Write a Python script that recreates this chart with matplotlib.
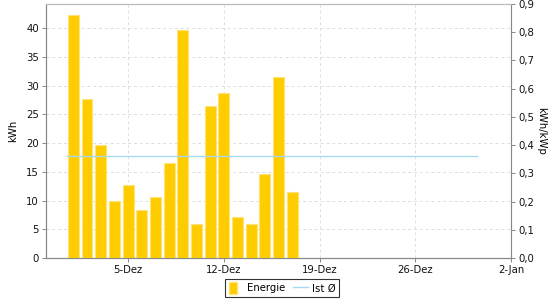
import matplotlib
matplotlib.use("Agg")
import matplotlib.pyplot as plt
import matplotlib.dates as mdates
from matplotlib.patches import Patch
from matplotlib.lines import Line2D
import datetime as dt

# ---- data ----
dates = ["2023-12-01", "2023-12-02", "2023-12-03", "2023-12-04", "2023-12-05",
         "2023-12-06", "2023-12-07", "2023-12-08", "2023-12-09", "2023-12-10",
         "2023-12-11", "2023-12-12", "2023-12-13", "2023-12-14", "2023-12-15",
         "2023-12-16", "2023-12-17"]
energy_kwh = [42.2, 27.6, 19.7, 10.0, 12.7, 8.3, 10.7, 16.5, 39.6, 5.9,
              26.5, 28.7, 7.1, 5.9, 14.7, 31.5, 11.5]
avg_start = "2023-11-30 12:00"
avg_end = "2023-12-30 12:00"
avg_kwh_kwp = 0.362
tick_dates = ["2023-12-05", "2023-12-12", "2023-12-19", "2023-12-26", "2024-01-02"]
tick_labels = ["5-Dez", "12-Dez", "19-Dez", "26-Dez", "2-Jan"]
x_start = "2023-11-29"
x_end = "2024-01-02"

plt.rcParams['font.family'] = ['DejaVu Sans']
fs = 7.3

fig = plt.figure(figsize=(5.6, 3.0), dpi=100)
ax = fig.add_axes([46/560, 1-258/300, (511-46)/560, (258-4)/300])
ax2 = ax.twinx()

d = [dt.datetime.fromisoformat(s) for s in dates]
xd = mdates.date2num(d)
ax.bar(xd, energy_kwh, width=0.8, color="#FFCC00", edgecolor="#FFE27A",
       linewidth=0.8, zorder=3)

ax2.plot(mdates.date2num([dt.datetime.fromisoformat(avg_start), dt.datetime.fromisoformat(avg_end)]),
         [avg_kwh_kwp, avg_kwh_kwp], color="#A6D8F2", linewidth=1.0, zorder=4)

ax.set_xlim(mdates.date2num(dt.datetime.fromisoformat(x_start)),
            mdates.date2num(dt.datetime.fromisoformat(x_end)))
ax.set_ylim(0, 44.2)
ax2.set_ylim(0, 0.9)

ax.set_yticks(range(0, 45, 5))
ax.set_yticklabels([str(v) for v in range(0, 45, 5)], fontsize=fs)
r_ticks = [i / 10 for i in range(10)]
ax2.set_yticks(r_ticks)
ax2.set_yticklabels([f"{v:.1f}".replace(".", ",") for v in r_ticks], fontsize=fs)

ax.set_xticks(mdates.date2num([dt.datetime.fromisoformat(s) for s in tick_dates]))
ax.set_xticklabels(tick_labels, fontsize=fs)

ax.grid(True, color="#DDDDDD", linestyle=(0, (3, 3)), linewidth=0.7, zorder=0)
ax.set_axisbelow(True)

for a in (ax, ax2):
    for s in a.spines.values():
        s.set_color("#BBBBBB")
        s.set_linewidth(0.8)
ax.spines['left'].set_color("#888888")
ax.spines['bottom'].set_color("#888888")
ax2.spines['right'].set_color("#888888")
ax2.spines['left'].set_color("#888888")
ax2.spines['bottom'].set_color("#888888")

ax.tick_params(axis='both', length=3, width=0.7, color="#888888", pad=2, labelcolor="#111111")
ax2.tick_params(axis='y', length=3, width=0.7, color="#888888", pad=2, labelcolor="#111111")

ax.set_ylabel("kWh", fontsize=fs, labelpad=6)
ax2.set_ylabel("kWh/kWp", fontsize=fs, rotation=-90, labelpad=9)

handles = [Patch(facecolor="#FFCC00", edgecolor="#FFE27A"),
           Line2D([0], [0], color="#A6D8F2", linewidth=1.0)]
leg = fig.legend(handles, ["Energie", "Ist Ø"], loc="center", bbox_to_anchor=(282/560, 1-288/300),
                 ncol=2, fontsize=fs, frameon=True, fancybox=False, handlelength=1.4,
                 handleheight=1.3, handletextpad=0.4, columnspacing=0.8, borderpad=0.35,
                 borderaxespad=0)
leg.get_frame().set_edgecolor("black")
leg.get_frame().set_linewidth(0.8)
leg.legend_handles[0].set_width(6)

fig.savefig("out.png", dpi=100)
